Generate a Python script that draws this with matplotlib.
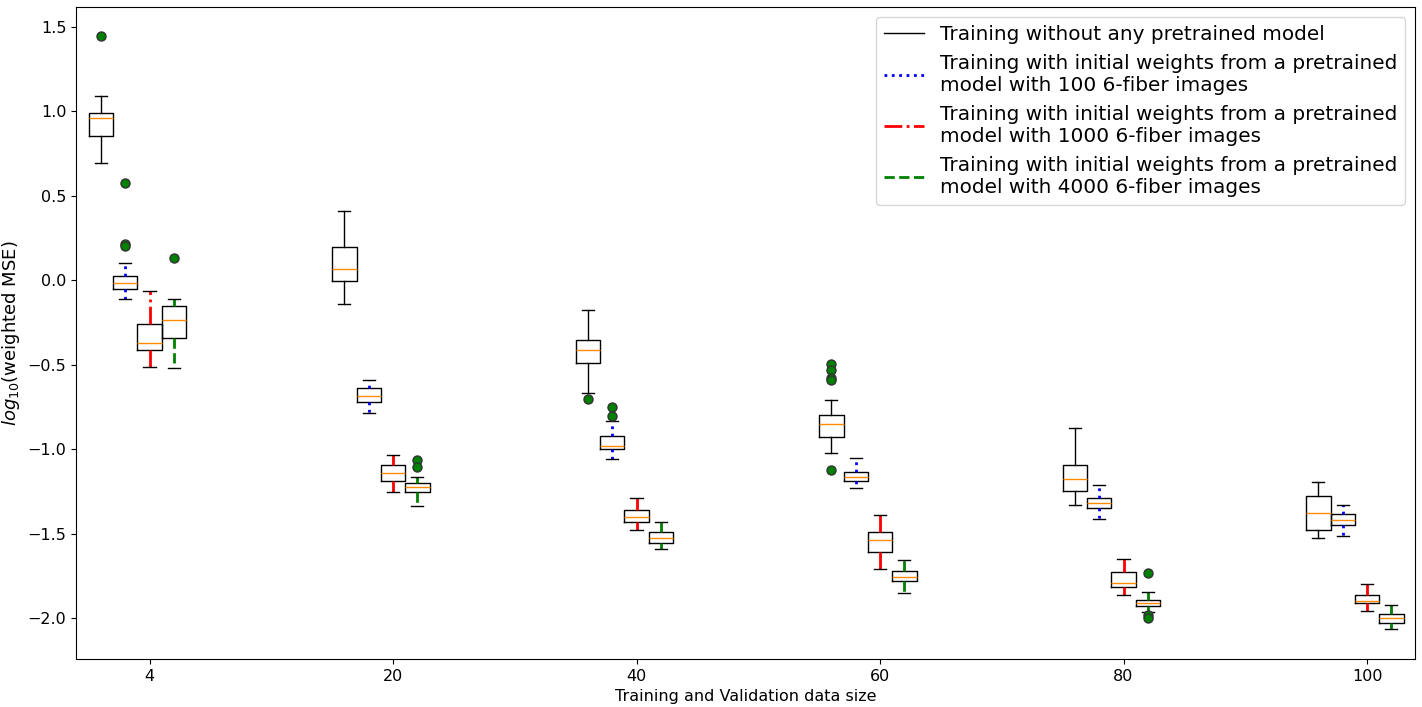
import matplotlib
matplotlib.use("Agg")
import matplotlib.pyplot as plt
from matplotlib.lines import Line2D

sizes = ["4", "20", "40", "60", "80", "100"]

series_labels = [
    "Training without any pretrained model",
    "Training with initial weights from a pretrained\nmodel with 100 6-fiber images",
    "Training with initial weights from a pretrained\nmodel with 1000 6-fiber images",
    "Training with initial weights from a pretrained\nmodel with 4000 6-fiber images",
]

# each entry per size: (whislo, q1, med, q3, whishi, fliers)
no_pretrain = [
    (0.693, 0.853, 0.959, 0.989, 1.090, [1.445]),
    (-0.142, -0.006, 0.065, 0.195, 0.408, []),
    (-0.669, -0.492, -0.415, -0.355, -0.178, [-0.705]),
    (-1.025, -0.930, -0.853, -0.800, -0.711, [-0.498, -0.533, -0.580, -0.590, -1.125]),
    (-1.333, -1.250, -1.179, -1.096, -0.877, []),
    (-1.528, -1.481, -1.380, -1.279, -1.197, []),
]
pre_100 = [
    (-0.113, -0.053, -0.018, 0.024, 0.101, [0.573, 0.215, 0.200]),
    (-0.788, -0.723, -0.687, -0.640, -0.592, []),
    (-1.060, -1.001, -0.983, -0.924, -0.835, [-0.752, -0.805]),
    (-1.232, -1.190, -1.167, -1.137, -1.054, []),
    (-1.415, -1.350, -1.321, -1.291, -1.214, []),
    (-1.516, -1.451, -1.421, -1.386, -1.333, []),
]
pre_1000 = [
    (-0.515, -0.415, -0.373, -0.261, -0.065, []),
    (-1.256, -1.190, -1.143, -1.096, -1.037, []),
    (-1.481, -1.433, -1.404, -1.362, -1.291, []),
    (-1.712, -1.611, -1.540, -1.492, -1.392, []),
    (-1.865, -1.818, -1.794, -1.729, -1.652, []),
    (-1.960, -1.913, -1.901, -1.866, -1.800, []),
]
pre_4000 = [
    (-0.521, -0.344, -0.237, -0.154, -0.113, [0.130]),
    (-1.338, -1.256, -1.226, -1.202, -1.167, [-1.066, -1.108]),
    (-1.593, -1.557, -1.528, -1.492, -1.433, []),
    (-1.854, -1.783, -1.759, -1.724, -1.658, []),
    (-1.966, -1.931, -1.913, -1.895, -1.848, [-1.735, -1.985, -1.998]),
    (-2.067, -2.031, -2.002, -1.978, -1.925, []),
]

all_series = [no_pretrain, pre_100, pre_1000, pre_4000]
colors = ["black", "blue", "red", "green"]
styles = ["-", ":", "-.", "--"]
wlw = [1.0, 2.0, 2.0, 2.0]
offsets = [-2, -1, 0, 1]
group_step = 10

fig = plt.figure(figsize=(14.22, 7.07), dpi=100)
ax = fig.add_axes([76 / 1422, 1 - 659 / 707, (1415 - 76) / 1422, (659 - 7) / 707])

for s, data in enumerate(all_series):
    stats = []
    for (lo, q1, med, q3, hi, fl) in data:
        stats.append(dict(whislo=lo, q1=q1, med=med, q3=q3, whishi=hi, fliers=fl))
    pos = [group_step * i + offsets[s] for i in range(len(data))]
    ax.bxp(stats, positions=pos, widths=1.0, manage_ticks=False,
           boxprops=dict(color="black", linewidth=1.0),
           capprops=dict(color="black", linewidth=1.0),
           whiskerprops=dict(color=colors[s], linestyle=styles[s], linewidth=wlw[s]),
           medianprops=dict(color="darkorange", linewidth=1.0),
           flierprops=dict(marker="o", markerfacecolor="green", markeredgecolor="#333333",
                           markersize=6.5, linestyle="none"))

ax.set_xticks([group_step * i for i in range(len(sizes))])
ax.set_xticklabels(sizes)
ax.set_xlim(-3.02, 51.97)
ax.set_ylim(-2.243, 1.618)
ax.tick_params(labelsize=11.5)
ax.set_xlabel("Training and Validation data size", fontsize=11.5)
ax.set_ylabel(r"$log_{10}$(weighted MSE)", fontsize=13)

handles = [Line2D([], [], color=colors[s], linestyle=styles[s], linewidth=wlw[s])
           for s in range(4)]
ax.legend(handles, series_labels, loc="upper right", fontsize=14.4)

fig.savefig("out.png", dpi=100)
